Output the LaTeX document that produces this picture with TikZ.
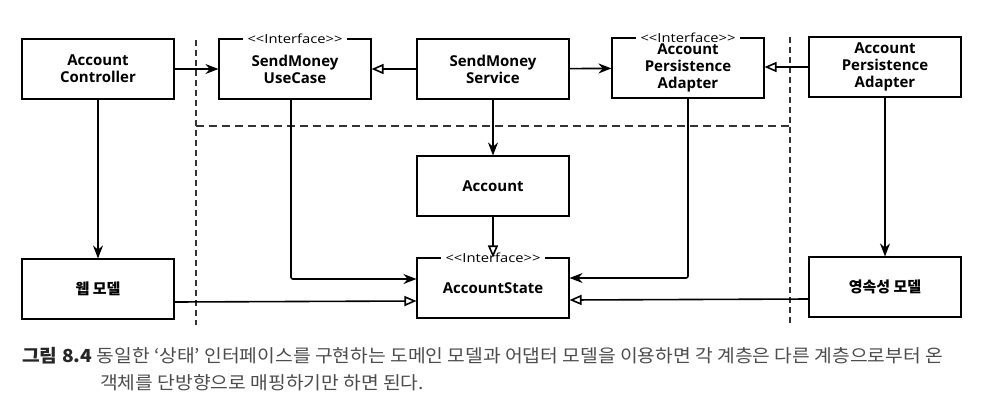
\documentclass[tikz,border=0pt]{standalone}
\usepackage{fontspec}
\setmainfont{Open Sans}
\newfontfamily\kr{Noto Sans CJK KR}
\usetikzlibrary{arrows.meta}
\newcommand\stereo[1]{\scalebox{1.18}[1]{<\kern0pt<#1>\kern0pt>}}

\begin{document}
\begin{tikzpicture}[x=1pt,y=-1pt,
	box/.style={draw,line width=1.1pt,minimum width=152pt,minimum height=60pt,inner sep=0pt,align=center,font=\bfseries\fontsize{15}{17}\selectfont},
	iface/.style={fill=white,inner xsep=5pt,inner ysep=0pt,font=\fontsize{12.5}{13}\selectfont},
	sep/.style={line width=1.4pt,black!80,dash pattern=on 6pt off 4pt},
	dep/.style={line width=1.6pt,-{Stealth[length=13pt,width=10pt]}},
	impl/.style={line width=1.6pt,-{Triangle[open,length=12pt,width=10pt]}},
	caption/.style={anchor=base west,inner sep=0pt,text=black!70,font=\kr\fontsize{18}{20}\selectfont}]
	\useasboundingbox (0,0) rectangle (1004,408);

	% layer borders
	\draw[sep] (196,40) -- (196,325);
	\draw[sep] (790,37) -- (790,323);
	\draw[sep,dash pattern=on 8pt off 5pt] (196,126) -- (790,126);

	\node[box] (ctrl) at (98,69) {Account\\Controller};
	\node[box] (usecase) at (295,69) {SendMoney\\UseCase};
	\node[box] (service) at (493,69) {SendMoney\\Service};
	\node[box] (portout) at (688,68) {Account\\Persistence\\Adapter};
	\node[box] (adapter) at (885,67) {Account\\Persistence\\Adapter};
	\node[box] (account) at (493,186) {Account};
	\node[box] (state) at (493,288) {AccountState};
	\node[box] (webmodel) at (98,289) {\kr 웹 모델};
	\node[box] (dbmodel) at (885,287) {\kr 영속성 모델};

	\node[iface] (usecaseif) at (usecase.north) {\stereo{Interface}};
	\node[iface] (portoutif) at (portout.north) {\stereo{Interface}};
	\node[iface] (stateif) at (state.north) {\stereo{Interface}};

	\draw[dep] (ctrl) -- (usecase);
	\draw[impl] (service) -- (usecase);
	\draw[dep] (service) -- (portout);
	\draw[impl] (adapter.west) -- (portout.east |- adapter.west);
	\draw[dep] (ctrl) -- (webmodel);
	\draw[dep] (adapter) -- (dbmodel);
	\draw[dep] (service) -- (account);
	\draw[impl] (account) -- (state);
	\draw[dep,rounded corners=2pt] ([xshift=-4pt]usecase.south) |- ([yshift=9pt]state.west);
	\draw[dep,rounded corners=2pt] (portout.south) |- ([yshift=10pt]state.east);
	\draw[impl] ([yshift=-13pt]webmodel.east) -- ([yshift=-13pt]state.west);
	\draw[impl] ([yshift=-12pt]dbmodel.west) -- ([yshift=-12pt]state.east);

	% caption
	\node[caption] (cap1) at (22,362)
		{\scalebox{1.07}[1]{{\bfseries\color{black!85}그림 8.4} 동일한 ‘상태’ 인터페이스를 구현하는 도메인 모델과 어댑터 모델을 이용하면 각 계층은 다른 계층으로부터 온}};
	\node[caption] (cap2) at (100,389)
		{\scalebox{1.07}[1]{객체를 단방향으로 매핑하기만 하면 된다.}};
\end{tikzpicture}
\end{document}
